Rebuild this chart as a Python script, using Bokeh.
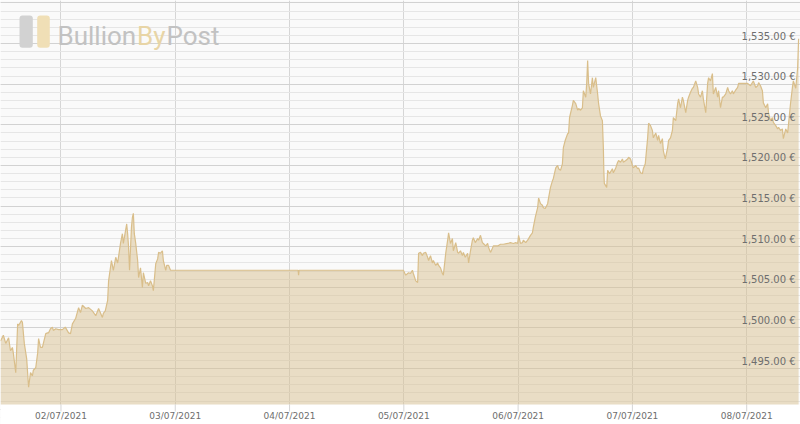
import pandas as pd
from bokeh.plotting import figure
from bokeh.models import (Range1d, SingleIntervalTicker, FixedTicker, Grid, Label, BoxAnnotation)
from bokeh.core.properties import value
from bokeh.embed import file_html
from bokeh.resources import INLINE

# hours after 2021-07-01 00:00 (UTC)
hours = [
    11.3, 11.9, 12.4, 13.0, 13.4, 13.8, 14.0, 14.5, 14.9, 15.1, 15.7, 15.9, 16.3, 16.8, 17.2, 17.6,
    18.0, 18.2, 18.7, 19.1, 19.3, 19.7, 20.1, 20.3, 20.8, 21.2, 21.4, 21.8, 22.2, 22.4, 22.9, 23.5,
    24.3, 24.9, 25.6, 26.0, 26.4, 27.1, 27.7, 28.1, 28.5, 29.2, 29.8, 30.6, 31.3, 31.9, 32.7, 32.9,
    33.3, 33.8, 34.0, 34.6, 35.0, 35.5, 35.9, 36.5, 36.9, 37.1, 37.8, 38.0, 38.2, 38.4, 38.8, 39.0,
    39.2, 39.4, 39.7, 40.1, 40.3, 40.7, 41.1, 41.3, 41.8, 42.2, 42.4, 42.8, 43.2, 43.4, 43.9, 44.3,
    44.5, 44.9, 45.3, 45.5, 46.0, 46.2, 46.6, 47.0,
    60.0, 73.8, 73.9, 74.0, 90.0,
    95.9, 96.4, 96.8, 97.0, 97.4, 97.8, 98.0, 98.5, 98.9, 99.1, 99.5, 99.9, 100.1, 100.6, 101.0, 101.2,
    101.6, 102.0, 102.2, 102.7, 103.1, 103.3, 103.7, 104.1, 104.3, 104.8, 105.2, 105.4, 105.8, 106.2,
    106.4, 106.9, 107.3, 107.5, 107.9, 108.3, 108.5, 108.9, 109.4, 109.6, 110.0, 110.4, 110.6, 111.0,
    111.5, 111.7, 112.1, 112.5, 112.7, 113.2, 113.6, 113.8, 114.2, 114.6, 114.8, 115.7, 116.3, 116.9,
    117.8, 118.4, 119.0, 119.5, 119.9, 120.1, 120.5, 120.9, 121.1, 121.6, 122.0, 122.2, 122.6, 123.0,
    123.2, 123.6, 124.1, 124.3, 124.7, 125.1, 125.3, 125.7, 126.2, 126.4, 126.8, 127.2, 127.4, 127.9,
    128.3, 128.5, 128.9, 129.3, 129.5, 129.9, 130.4, 130.6, 130.8, 131.4, 131.6, 132.1, 132.5, 132.7,
    133.1, 133.5, 133.7, 134.2, 134.4, 134.6, 134.8, 135.2, 135.6, 135.8, 136.3, 136.7, 136.9, 137.3,
    137.7, 137.9, 138.0, 138.1, 138.6, 138.8, 139.2, 139.8, 140.0, 140.5, 140.9, 141.1, 141.5, 141.9,
    142.1, 142.6, 143.0, 143.2, 143.6, 144.0, 144.2, 144.7, 145.1, 145.3, 145.7, 146.1, 146.3, 146.7,
    147.2, 147.4, 147.8, 148.2, 148.4, 148.9, 149.3, 149.5, 149.9, 150.3, 150.5, 150.9, 151.4, 151.6,
    152.0, 152.4, 152.6, 153.1, 153.5, 153.7, 154.1, 154.5, 154.7, 155.2, 155.6, 155.8, 156.2, 156.6,
    156.8, 157.3, 157.7, 157.9, 158.3, 158.7, 158.9, 159.4, 159.8, 160.0, 160.4, 160.8, 161.0, 161.5,
    161.9, 162.1, 162.5, 162.9, 163.1, 163.6, 164.0, 164.2, 164.6, 165.0, 165.2, 165.6, 166.1, 166.3,
    166.7, 167.3, 168.2, 168.8, 169.2, 169.4, 169.9, 170.3, 170.5, 170.9, 171.3, 171.5, 172.0, 172.4,
    172.6, 173.0, 173.4, 173.6, 174.1, 174.5, 174.7, 175.1, 175.5, 175.7, 176.2, 176.6, 176.8, 177.2,
    177.6, 177.8, 178.3, 178.7, 178.9,
]

# EUR price per ounce
prices = [
    1498.4, 1499.1, 1498.1, 1498.8, 1497.2, 1497.6, 1496.9, 1494.5, 1500.5, 1500.3, 1500.9, 1500.7,
    1498.1, 1496.2, 1492.7, 1494.5, 1494.1, 1494.8, 1495.1, 1496.9, 1498.7, 1497.6, 1497.6, 1498.1,
    1499.3, 1499.4, 1499.4, 1499.9, 1500.1, 1499.7, 1499.9, 1499.8, 1499.8, 1500.1, 1499.4, 1499.3,
    1500.5, 1501.2, 1502.5, 1501.9, 1502.8, 1502.4, 1502.5, 1502.1, 1501.5, 1502.4, 1501.3, 1501.8,
    1502.1, 1503.4, 1505.8, 1508.3, 1507.1, 1508.7, 1508.0, 1510.4, 1511.6, 1510.4, 1512.8, 1511.6,
    1509.9, 1507.1, 1512.4, 1513.6, 1514.1, 1511.6, 1510.4, 1508.3, 1506.2, 1507.4, 1505.0, 1506.8,
    1505.5, 1505.6, 1505.2, 1505.8, 1505.2, 1504.6, 1507.9, 1508.5, 1509.3, 1509.2, 1509.5, 1508.3,
    1507.1, 1507.7, 1507.7, 1507.1,
    1507.1, 1507.1, 1506.5, 1507.1, 1507.1,
    1507.1, 1506.5, 1506.7, 1506.8, 1506.7, 1507.1, 1506.7, 1505.8, 1505.6, 1509.2, 1509.3, 1508.9,
    1509.2, 1509.3, 1508.7, 1508.3, 1508.9, 1508.0, 1508.3, 1507.7, 1508.0, 1507.7, 1507.4, 1506.7,
    1506.5, 1509.2, 1510.8, 1511.7, 1510.4, 1511.0, 1509.5, 1510.5, 1509.3, 1509.2, 1509.5, 1508.9,
    1509.3, 1508.7, 1509.2, 1508.0, 1509.5, 1510.8, 1511.1, 1510.5, 1511.0, 1510.8, 1511.4, 1510.5,
    1510.4, 1510.1, 1510.4, 1509.9, 1509.3, 1509.8, 1510.1, 1510.1, 1510.3, 1510.3, 1510.4, 1510.5,
    1510.4, 1510.5, 1510.4, 1511.4, 1510.4, 1510.5, 1510.8, 1510.5, 1510.8, 1511.0, 1511.4, 1511.7,
    1512.4, 1513.6, 1514.8, 1516.0, 1515.3, 1515.1, 1514.8, 1514.7, 1515.3, 1516.0, 1517.3, 1518.1,
    1518.4, 1519.7, 1520.0, 1519.6, 1519.4, 1520.2, 1522.2, 1523.1, 1523.9, 1524.0, 1525.9, 1527.4,
    1528.0, 1527.6, 1526.8, 1527.0, 1526.8, 1527.1, 1529.2, 1528.4, 1530.1, 1532.9, 1530.1, 1528.8,
    1530.8, 1529.6, 1530.8, 1528.8, 1527.6, 1526.1, 1525.5, 1522.2, 1519.4, 1517.8, 1517.3, 1519.4,
    1519.0, 1519.6, 1519.1, 1519.7, 1520.4, 1520.6, 1520.4, 1520.8, 1520.4, 1520.6, 1520.8, 1521.0,
    1520.8, 1520.0, 1519.7, 1520.0, 1519.6, 1519.7, 1519.1, 1519.0, 1519.6, 1520.2, 1523.4, 1525.2,
    1524.9, 1524.3, 1523.4, 1524.0, 1523.1, 1523.7, 1522.7, 1523.3, 1521.8, 1520.8, 1522.2, 1523.1,
    1523.4, 1524.3, 1525.9, 1525.5, 1527.6, 1528.2, 1527.1, 1528.4, 1528.0, 1526.5, 1528.0, 1528.4,
    1529.0, 1529.5, 1529.6, 1530.4, 1529.6, 1528.8, 1528.4, 1529.2, 1528.2, 1526.5, 1530.1, 1530.8,
    1530.4, 1531.3, 1528.8, 1529.6, 1528.4, 1529.2, 1527.1, 1528.4, 1528.4, 1528.8, 1529.6, 1529.2,
    1528.8, 1529.2, 1528.8, 1529.2, 1529.6, 1530.1, 1530.1, 1530.1, 1530.1, 1529.8, 1530.2, 1530.4,
    1529.6, 1529.8, 1530.2, 1529.8, 1529.2, 1527.7, 1527.1, 1527.6, 1526.4, 1525.5, 1525.9, 1525.3,
    1524.9, 1524.5, 1524.7, 1524.3, 1524.5, 1523.3, 1524.5, 1524.0, 1525.2, 1527.6, 1529.6, 1530.4,
    1529.5, 1532.0, 1535.6,
]

tick_dates = ["2021-07-02", "2021-07-03", "2021-07-04", "2021-07-05",
              "2021-07-06", "2021-07-07", "2021-07-08"]
tick_labels = ["02/07/2021", "03/07/2021", "04/07/2021", "05/07/2021",
               "06/07/2021", "07/07/2021", "08/07/2021"]
price_ticks = [1495, 1500, 1505, 1510, 1515, 1520, 1525, 1530, 1535]
price_labels = [f"{v:,.2f} €" for v in price_ticks]

# view window
x_end_hours = 179.3
y_lo, y_hi = 1490.58, 1540.3
y_bottom = 1488.12      # bottom of the figure (date-label strip)
y_tick_end = 1489.72    # end of the small tick marks under the band
y_date_lbl = 1489.16    # centre of the date labels

t0 = pd.Timestamp("2021-07-01")
times = t0 + pd.to_timedelta(hours, unit="h")
tick_times = pd.to_datetime(tick_dates)
tick_ms = [t.value // 10**6 for t in tick_times]

p = figure(width=800, height=424, x_axis_type="datetime",
           x_axis_location=None, y_axis_location=None,
           x_range=Range1d(times[0], t0 + pd.Timedelta(hours=x_end_hours)),
           y_range=Range1d(y_bottom, y_hi),
           output_backend="svg", toolbar_location=None,
           min_border_left=0, min_border_right=0, min_border_top=0, min_border_bottom=0)
p.background_fill_color = "#fafafa"
p.border_fill_color = "white"
p.outline_line_color = None

# grids
p.add_layout(Grid(dimension=0, ticker=FixedTicker(ticks=tick_ms), grid_line_color="#d6d6d6"))
p.add_layout(Grid(dimension=1, ticker=SingleIntervalTicker(interval=5, num_minor_ticks=5),
                  grid_line_color="#d2d2d2", minor_grid_line_color="#e6e6e6"))

# white strip below the band (covers the grid)
p.add_layout(BoxAnnotation(top=y_lo, fill_color="white", fill_alpha=1, line_color=None,
                           level="underlay"))

# area + line
p.varea(x=times, y1=y_lo, y2=prices, fill_color="#d8c090", fill_alpha=0.5)
p.line(x=times, y=prices, line_color="#d9be8a", line_width=1.2)

# tick marks + date labels
n = len(tick_times)
p.segment(x0=tick_times, x1=tick_times, y0=[y_lo] * n, y1=[y_tick_end] * n,
          line_color="#d6d6d6", line_width=1)
p.text(x=tick_times, y=[y_date_lbl] * n, text=tick_labels,
       text_align="center", text_baseline="middle",
       text_font=value("DejaVu Sans"), text_font_size="9px", text_color="#6e6e6e")

# price labels inside right edge
p.text(x=[times[-1]] * len(price_ticks), y=price_ticks, text=price_labels,
       text_align="right", text_baseline="bottom", x_offset=-3, y_offset=-2,
       text_font=value("DejaVu Sans"), text_font_size="10px", text_color="#6e6e6e")

# watermark logo
for l, r, col in [(19.0, 32.3, "#d2d2d2"), (36.7, 49.3, "#f0dfb6")]:
    p.add_layout(BoxAnnotation(left=l, right=r, bottom=376.7, top=409.0,
                               left_units="screen", right_units="screen",
                               bottom_units="screen", top_units="screen",
                               fill_color=col, fill_alpha=1, line_color=None, border_radius=3))
for txt, xs, col in [("Bullion", 57.0, "#c2c2c2"), ("By", 136.5, "#e8d5a6"), ("Post", 166.0, "#c2c2c2")]:
    p.add_layout(Label(x=xs, y=389, x_units="screen", y_units="screen", text=txt,
                       text_font="Roboto", text_font_size="26px",
                       text_color=col, text_baseline="alphabetic"))

open("out.html", "w").write(file_html(p, INLINE))
